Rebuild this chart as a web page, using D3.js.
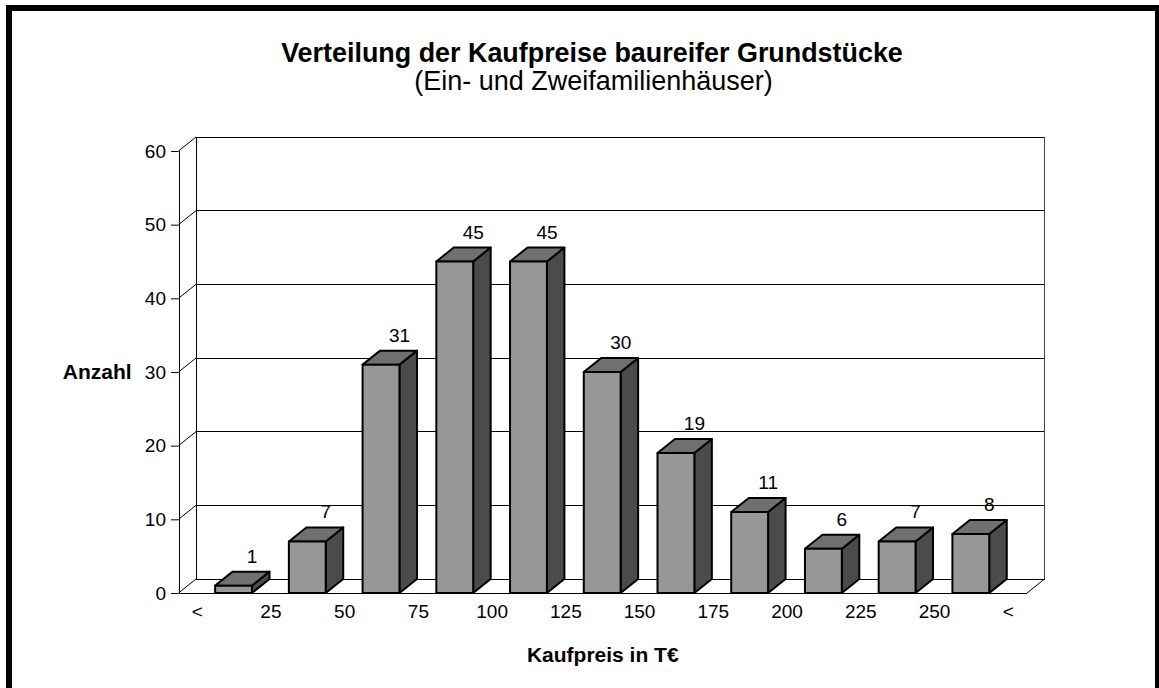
<!DOCTYPE html>
<html>
<head>
<meta charset="utf-8">
<script src="https://cdn.jsdelivr.net/npm/d3@7"></script>
<style>
  html, body { margin: 0; padding: 0; background: #fff; }
  svg { display: block; font-family: "Liberation Sans", Arial, sans-serif; }
</style>
</head>
<body>
<svg id="chart" width="1159" height="688"></svg>
<script>
// ---- data ----
const xTickLabels = ["<", "25", "50", "75", "100", "125", "150", "175", "200", "225", "250", "<"];
const binIndex = [0, 1, 2, 3, 4, 5, 6, 7, 8, 9, 10];
const counts = [1, 7, 31, 45, 45, 30, 19, 11, 6, 7, 8];
const yTicks = [0, 10, 20, 30, 40, 50, 60];
const titleText = "Verteilung der Kaufpreise baureifer Grundstücke";
const subtitleText = "(Ein- und Zweifamilienhäuser)";
const yTitle = "Anzahl";
const xTitle = "Kaufpreis in T€";

// ---- layout ----
const W = 1159, H = 688;
const frontLeft = 178.5, frontRight = 1027;
const dX = 17.5, dY = -14;           // 3D depth offset
const svg = d3.select("#chart");

// frame
svg.append("rect").attr("x", 9).attr("y", 8).attr("width", 1149).attr("height", 1000)
  .attr("fill", "#fff").attr("stroke", "#000").attr("stroke-width", 6);

const y = d3.scaleLinear().domain([0, 60]).range([593, 151]);
const xb = d3.scaleLinear().domain([0, 11]).range([196.7, 1007.7]);
const band = d3.scaleBand().domain(binIndex).range([196.7, 1007.7])
  .paddingInner(0.5).paddingOuter(0.25);

const y0 = y(0), yMax = y(60);
const g = svg.append("g");

// back wall gridlines + side wall diagonals
yTicks.forEach(t => {
  const yy = y(t);
  g.append("line").attr("x1", frontLeft).attr("y1", yy).attr("x2", frontLeft + dX).attr("y2", yy + dY)
    .attr("stroke", "#000").attr("stroke-width", 1);
  g.append("line").attr("x1", frontLeft + dX).attr("y1", yy + dY).attr("x2", frontRight + dX).attr("y2", yy + dY)
    .attr("stroke", "#000").attr("stroke-width", 1).attr("shape-rendering", "crispEdges");
});
// walls verticals
g.append("line").attr("x1", frontLeft + dX).attr("x2", frontLeft + dX).attr("y1", yMax + dY).attr("y2", y0 + dY)
  .attr("stroke", "#000").attr("shape-rendering", "crispEdges");
g.append("line").attr("x1", frontRight + dX).attr("x2", frontRight + dX).attr("y1", yMax + dY).attr("y2", y0 + dY)
  .attr("stroke", "#444").attr("shape-rendering", "crispEdges");
// floor
g.append("line").attr("x1", frontLeft).attr("x2", frontRight).attr("y1", y0).attr("y2", y0)
  .attr("stroke", "#000").attr("shape-rendering", "crispEdges");
g.append("line").attr("x1", frontRight).attr("y1", y0).attr("x2", frontRight + dX).attr("y2", y0 + dY)
  .attr("stroke", "#000");

// y axis
const yAxis = g.append("g").attr("transform", `translate(${frontLeft},0)`)
  .call(d3.axisLeft(y).tickValues(yTicks).tickSize(7.5).tickPadding(5));
yAxis.select(".domain").attr("stroke", "#000").attr("d", `M0.5,${y0}V${yMax}`).attr("shape-rendering", "crispEdges");
yAxis.selectAll(".tick line").attr("stroke", "#000");
yAxis.selectAll("text").attr("font-size", 19).attr("fill", "#000")
  .attr("font-family", "Liberation Sans, Arial, sans-serif");

// x axis labels (bin boundaries)
const xAxis = g.append("g").attr("transform", `translate(0,${y0})`)
  .call(d3.axisBottom(xb).tickValues(d3.range(12)).tickFormat(i => xTickLabels[i]).tickSize(0).tickPadding(11.5));
xAxis.select(".domain").remove();
xAxis.selectAll("text").attr("font-size", 19).attr("fill", "#000")
  .attr("font-family", "Liberation Sans, Arial, sans-serif");

// bars
const bars = g.selectAll("g.bar").data(binIndex).enter().append("g").attr("class", "bar");
bars.each(function(i) {
  const sel = d3.select(this);
  const xl = band(i), xr = band(i) + band.bandwidth();
  const yt = y(counts[i]);
  const pts = a => a.map(p => p.join(",")).join(" ");
  sel.append("polygon")
    .attr("points", pts([[xr, yt], [xr + dX, yt + dY], [xr + dX, y0 + dY], [xr, y0]]))
    .attr("fill", "#4b4b4b").attr("stroke", "#000").attr("stroke-width", 2).attr("stroke-linejoin", "round");
  sel.append("polygon")
    .attr("points", pts([[xl, yt], [xl + dX, yt + dY], [xr + dX, yt + dY], [xr, yt]]))
    .attr("fill", "#707070").attr("stroke", "#000").attr("stroke-width", 2).attr("stroke-linejoin", "round");
  sel.append("rect").attr("x", xl).attr("y", yt).attr("width", xr - xl).attr("height", y0 - yt)
    .attr("fill", "#979797").attr("stroke", "#000").attr("stroke-width", 2).attr("stroke-linejoin", "round");
  sel.append("text")
    .attr("x", (xl + xr) / 2 + dX + 1).attr("y", yt + dY - 9)
    .attr("text-anchor", "middle").attr("font-size", 19).attr("fill", "#000")
    .text(counts[i]);
});

// titles
svg.append("text").attr("x", 592).attr("y", 62).attr("text-anchor", "middle")
  .attr("font-size", 26.9).attr("font-weight", "bold").text(titleText);
svg.append("text").attr("x", 593.5).attr("y", 90).attr("text-anchor", "middle")
  .attr("font-size", 27).text(subtitleText);
svg.append("text").attr("x", 131.7).attr("y", 379).attr("text-anchor", "end")
  .attr("font-size", 21).attr("font-weight", "bold").text(yTitle);
svg.append("text").attr("x", (frontLeft + frontRight) / 2).attr("y", 661.7).attr("text-anchor", "middle")
  .attr("font-size", 21).attr("font-weight", "bold").text(xTitle);
</script>
</body>
</html>
